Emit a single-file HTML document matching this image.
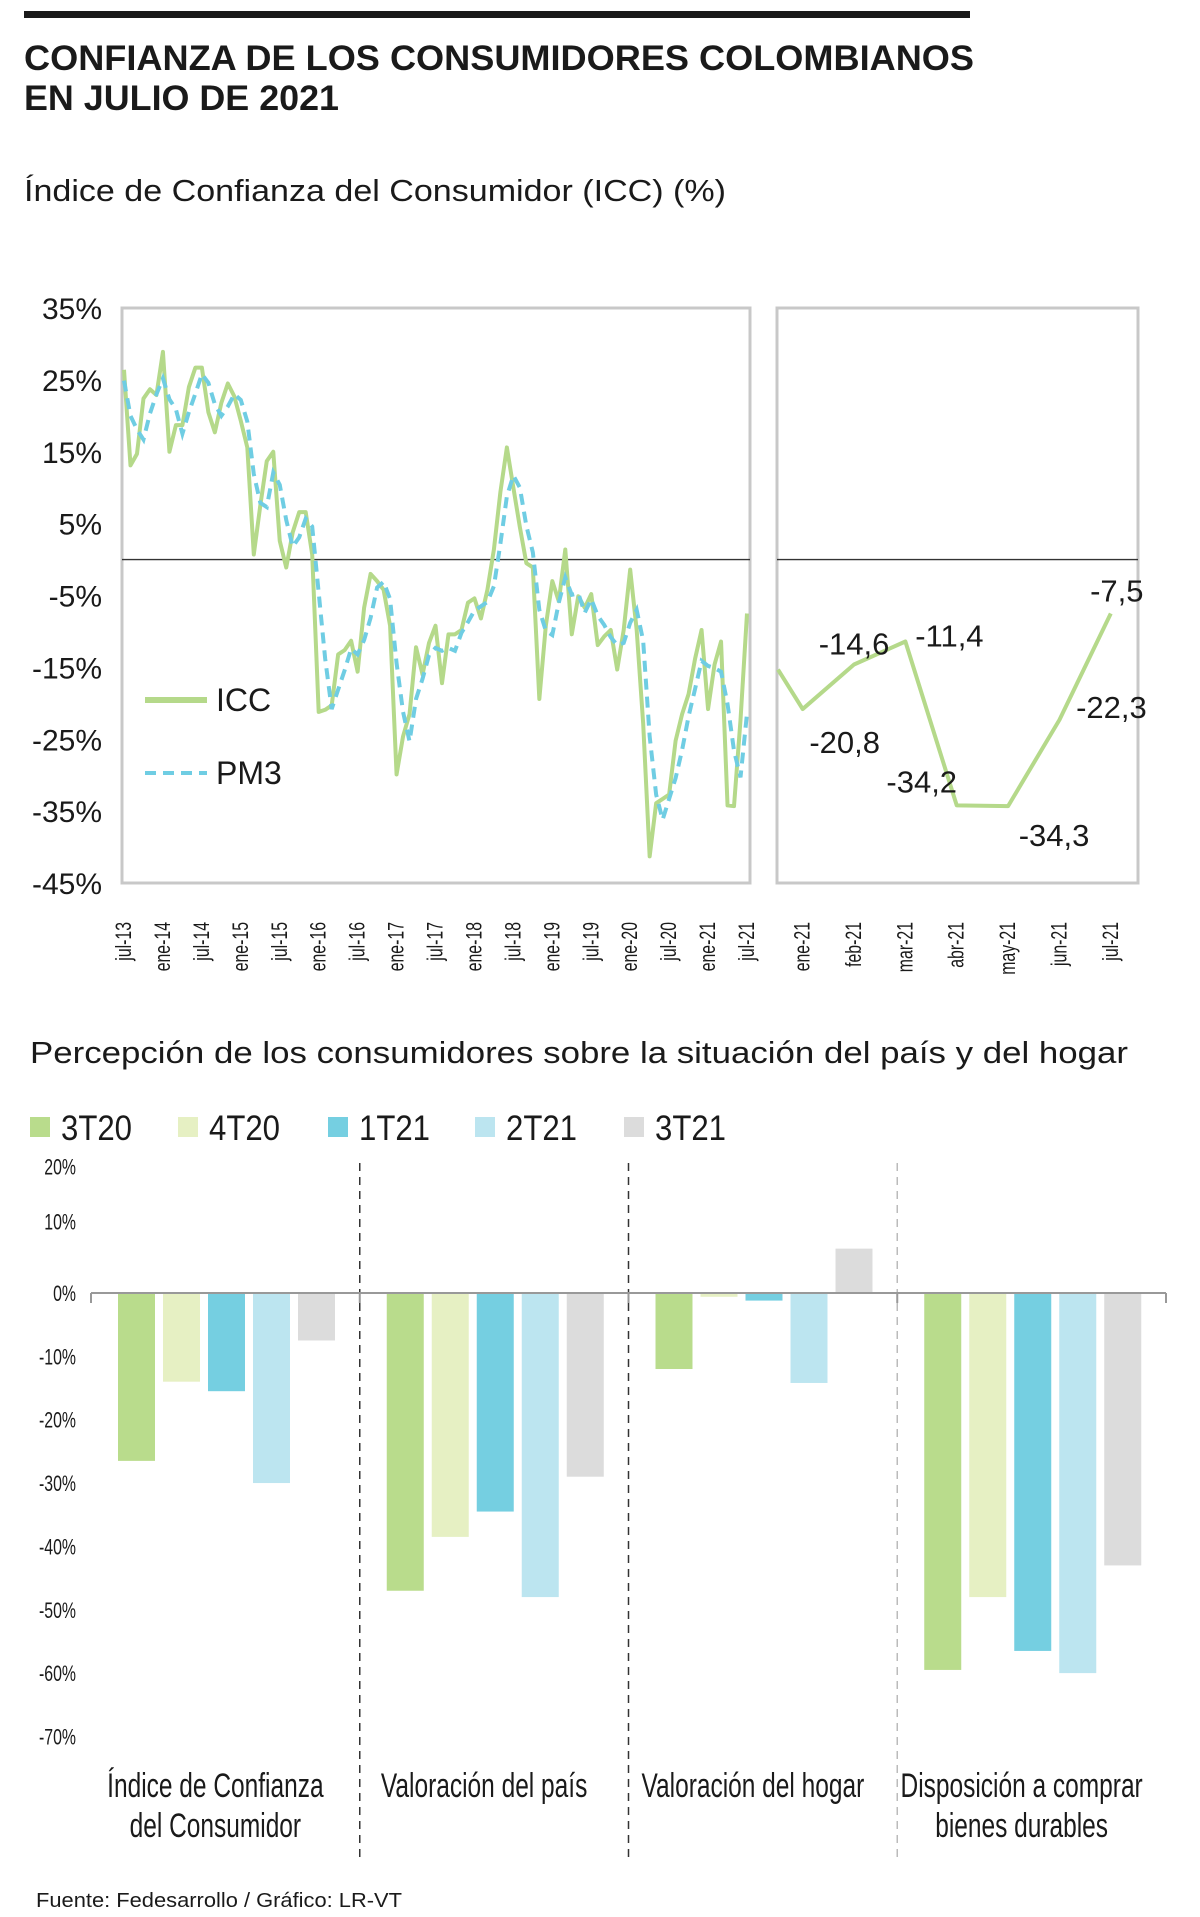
<!DOCTYPE html>
<html><head><meta charset="utf-8">
<style>
html,body{margin:0;padding:0;background:#fff;}
svg{display:block;}
text{font-family:"Liberation Sans",sans-serif;fill:#1a1a1a;}
.n{font-family:"Liberation Sans Narrow","Liberation Sans",sans-serif;}
</style></head>
<body>
<svg id="svg" width="1200" height="1917" viewBox="0 0 1200 1917" xmlns="http://www.w3.org/2000/svg">
<rect x="24" y="11" width="946" height="7" fill="#1a1a1a"/>
<text x="24" y="70" font-size="35" font-weight="bold" textLength="950" lengthAdjust="spacingAndGlyphs">CONFIANZA DE LOS CONSUMIDORES COLOMBIANOS</text>
<text x="24" y="110" font-size="35" font-weight="bold" textLength="315" lengthAdjust="spacingAndGlyphs">EN JULIO DE 2021</text>
<text x="24" y="201" font-size="31" textLength="702" lengthAdjust="spacingAndGlyphs">Índice de Confianza del Consumidor (ICC) (%)</text>
<g id="c1"></g>
<text x="30" y="1063" font-size="31" textLength="1098" lengthAdjust="spacingAndGlyphs">Percepción de los consumidores sobre la situación del país y del hogar</text>
<g id="c2"></g>
<text x="36" y="1907" font-size="20" textLength="366" lengthAdjust="spacingAndGlyphs">Fuente: Fedesarrollo / Gráfico: LR-VT</text>
</svg>
<script>
// ---- Chart 1 data ----
const iccValues = [26.4,13.1,14.7,22.4,23.7,22.9,28.9,15,18.7,18.7,24,26.7,26.7,20.5,17.7,21.8,24.5,22.7,19.3,15.6,0.7,7.5,13.7,15,2.6,-1.1,3.8,6.6,6.6,0.7,-21.2,-20.9,-20.3,-13.2,-12.6,-11.3,-15.6,-6.7,-2,-3,-4.2,-9.2,-29.9,-24.6,-21.5,-12.2,-16,-11.6,-9.2,-17.2,-10.4,-10.4,-9.8,-6,-5.4,-8.2,-4.2,1.4,9.4,15.6,10,4.5,-0.5,-1.1,-19.4,-9.2,-3,-5.8,1.4,-10.4,-5.1,-6.7,-4.8,-11.9,-10.7,-9.8,-15.3,-9.8,-1.4,-9.8,-22.8,-41.3,-33.9,-33.3,-32.7,-25.2,-21.5,-18.7,-13.8,-9.8,-20.8,-14.6,-11.4,-34.2,-34.3,-22.3,-7.5];
const pm3Values = [24.9,20,18.1,16.7,20.3,23,25.2,22.3,20.9,17.5,20.5,23.1,25.8,24.6,21.6,20,21.3,23,22.2,19.2,11.9,7.9,7.3,12.1,10.4,5.5,1.8,3.1,5.7,4.6,-4.6,-13.8,-20.8,-18.1,-15.4,-12.4,-13.2,-11.2,-8.1,-3.9,-3.1,-5.5,-14.4,-21.2,-25.3,-19.4,-16.6,-13.3,-12.3,-12.7,-12.3,-12.7,-10.2,-8.7,-7.1,-6.5,-5.9,-3.7,2.2,8.8,11.7,10,4.7,1,-7,-9.9,-10.5,-6,-2.5,-4.9,-4.7,-7.4,-5.5,-7.8,-9.1,-10.8,-11.9,-11.6,-8.8,-7,-11.3,-24.6,-32.7,-36.2,-33.3,-30.4,-26.5,-21.8,-18,-14.1,-14.8,-15.1,-15.6,-20.1,-26.6,-30.3,-21.4];
const xTickLabels = ["jul-13","ene-14","jul-14","ene-15","jul-15","ene-16","jul-16","ene-17","jul-17","ene-18","jul-18","ene-19","jul-19","ene-20","jul-20","ene-21","jul-21"];
const yTicks = [35,25,15,5,-5,-15,-25,-35,-45];
const recentMonths = ["dic-20","ene-21","feb-21","mar-21","abr-21","may-21","jun-21","jul-21"];
const recentValues = [-15.3,-20.8,-14.6,-11.4,-34.2,-34.3,-22.3,-7.5];
const recentLabels = ["","-20,8","-14,6","-11,4","-34,2","-34,3","-22,3","-7,5"];
// ---- Chart 2 data ----
const groups = [["Índice de Confianza","del Consumidor"],["Valoración del país"],["Valoración del hogar"],["Disposición a comprar","bienes durables"]];
const seriesNames = ["3T20","4T20","1T21","2T21","3T21"];
const s3T20 = [-26.5,-47,-12,-59.5];
const s4T20 = [-14,-38.5,-0.6,-48];
const s1T21 = [-15.5,-34.5,-1.2,-56.5];
const s2T21 = [-30,-48,-14.2,-60];
const s3T21 = [-7.5,-29,7,-43];
const y2Ticks = [20,10,0,-10,-20,-30,-40,-50,-60,-70];

const NS="http://www.w3.org/2000/svg";
function mk(parent,tag,attrs,txt){const e=document.createElementNS(NS,tag);for(const k in attrs)e.setAttribute(k,attrs[k]);if(txt!==undefined)e.textContent=txt;parent.appendChild(e);return e;}

// Chart 1
const c1=document.getElementById('c1');
const top1=308,bot1=883,L1=122,R1=750,L2=777,R2=1138;
const y1=v=>top1+(35-v)*(bot1-top1)/80;
const x1=i=>L1+2+i*(R1-L1-5)/96;
const step2=(R2-L2)/7.03;
yTicks.forEach(t=>{
  const e=mk(c1,'text',{x:102,y:y1(t)+11,'font-size':30,'text-anchor':'end'},t+'%');
  
  
});
let e=mk(c1,'rect',{x:L1,y:top1,width:R1-L1,height:bot1-top1,fill:'none',stroke:'#c8c8c8','stroke-width':3});

e=mk(c1,'rect',{x:L2,y:top1,width:R2-L2,height:bot1-top1,fill:'none',stroke:'#c8c8c8','stroke-width':3});

e=mk(c1,'line',{x1:L1,x2:R1,y1:y1(0),y2:y1(0),stroke:'#333','stroke-width':1.3});

e=mk(c1,'line',{x1:L2,x2:R2,y1:y1(0),y2:y1(0),stroke:'#333','stroke-width':1.3});

e=mk(c1,'polyline',{points:iccValues.map((v,i)=>x1(i)+','+y1(v)).join(' '),fill:'none',stroke:'#b5d98a','stroke-width':4,'stroke-linejoin':'round'});

e=mk(c1,'polyline',{points:pm3Values.map((v,i)=>x1(i)+','+y1(v)).join(' '),fill:'none',stroke:'#6fcde3','stroke-width':4,'stroke-dasharray':'11 7'});

xTickLabels.forEach((l,k)=>{
  const x=x1(k*6)+7;
  const t=mk(c1,'text',{x:0,y:0,'font-size':22,class:'n','text-anchor':'end',transform:`translate(${x},922) rotate(-90)`},l);
  
  
});
e=mk(c1,'line',{x1:145,x2:207,y1:700,y2:700,stroke:'#b5d98a','stroke-width':6});

e=mk(c1,'text',{x:216,y:711,'font-size':32},'ICC');

e=mk(c1,'line',{x1:145,x2:207,y1:773,y2:773,stroke:'#6fcde3','stroke-width':4,'stroke-dasharray':'11 7'});

e=mk(c1,'text',{x:216,y:784,'font-size':32},'PM3');

// recent panel
const xr=i=>i===0?L2+1:L2+(i-0.5)*step2;
e=mk(c1,'polyline',{points:recentValues.map((v,i)=>xr(i)+','+y1(v)).join(' '),fill:'none',stroke:'#b5d98a','stroke-width':4,'stroke-linejoin':'round'});

const lblOff=[[0,0],[42,33],[0,-21],[44,-6],[-35,-24],[46,29],[52,-13],[6,-23]];
recentLabels.forEach((l,i)=>{
  if(!l)return;
  const t=mk(c1,'text',{x:xr(i)+lblOff[i][0],y:y1(recentValues[i])+lblOff[i][1]+11,'font-size':31,'text-anchor':'middle'},l);
  
  
});
recentMonths.forEach((l,i)=>{
  if(i===0)return;
  const t=mk(c1,'text',{x:0,y:0,'font-size':22,class:'n','text-anchor':'end',transform:`translate(${xr(i)+7},922) rotate(-90)`},l);
  
  
});

// Chart 2
const c2=document.getElementById('c2');
const colors=["#b9dc8c","#e6f0c3","#75cfe1","#bce5f0","#dcdcdc"];
const allSeries=[s3T20,s4T20,s1T21,s2T21,s3T21];
const zeroY=1293, pxPer=6.335, AL=91, AR=1166, gw=(AR-AL)/4;
const y2=v=>zeroY-v*pxPer;
const legX=[30,178,328,475,624];
seriesNames.forEach((n,s)=>{
  const r=mk(c2,'rect',{x:legX[s],y:1117,width:20,height:20,fill:colors[s]});
  
  
  const t=mk(c2,'text',{x:legX[s]+31,y:1140,'font-size':35,textLength:71,lengthAdjust:'spacingAndGlyphs'},n);
  
  
});
y2Ticks.forEach(t=>{
  const tx=mk(c2,'text',{x:76,y:y2(t)+(t===10?0:8),'font-size':22,class:'n','text-anchor':'end'},t+'%');
  
  
});
[1,2,3].forEach(k=>{
  const ln=mk(c2,'line',{x1:AL+k*gw,x2:AL+k*gw,y1:1163,y2:1861,stroke:k<3?'#333':'#bbb','stroke-width':1.5,'stroke-dasharray':'8 6'});
  
  
});
groups.forEach((g,gi)=>{
  allSeries.forEach((ser,s)=>{
    const v=ser[gi];
    const x=AL+gi*gw+27+s*45;
    const r=mk(c2,'rect',{x:x,y:Math.min(y2(v),zeroY),width:37,height:Math.abs(y2(v)-zeroY),fill:colors[s]});
    
    
  });
  g.forEach((line,li)=>{
    const t=mk(c2,'text',{x:AL+gi*gw+gw/2-10,y:1797+li*40,'font-size':34,class:'n','text-anchor':'middle'},line);
    
    
  });
});
e=mk(c2,'line',{x1:AL,x2:AR,y1:zeroY,y2:zeroY,stroke:'#999','stroke-width':2});

[0,1,2,3,4].forEach(k=>{
  const tk=mk(c2,'line',{x1:AL+k*gw,x2:AL+k*gw,y1:zeroY,y2:zeroY+10,stroke:'#999','stroke-width':2});
  
  
});
// condense "narrow" texts to mimic condensed typeface
document.querySelectorAll('text.n').forEach(t=>{
  const w=t.getComputedTextLength();
  if(w>0){t.setAttribute('textLength',(w*0.72).toFixed(1));t.setAttribute('lengthAdjust','spacingAndGlyphs');}
});
</script>
</body></html>
